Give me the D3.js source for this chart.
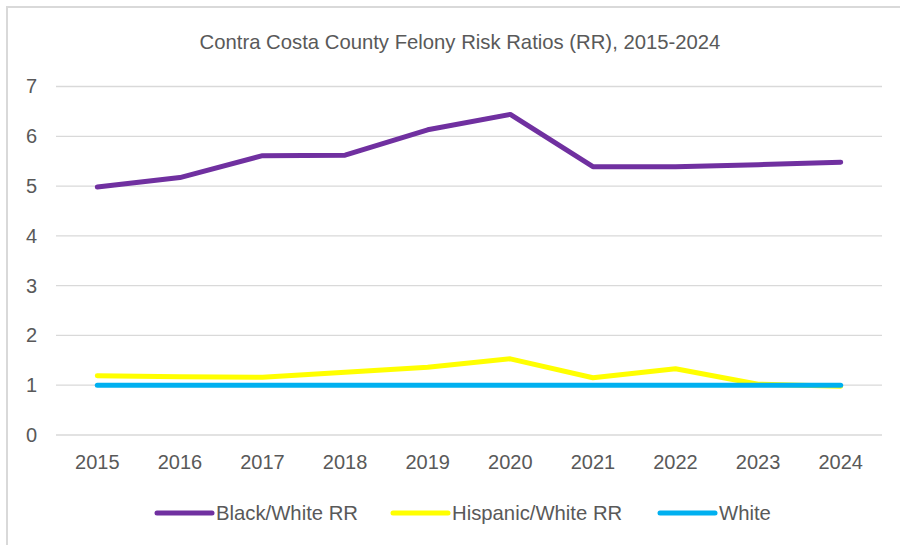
<!DOCTYPE html>
<html>
<head>
<meta charset="utf-8">
<script src="https://cdn.jsdelivr.net/npm/d3@7"></script>
<style>
	body { margin: 0; background: #fff; }
	text { font-family: 'Liberation Sans', Arial, sans-serif; fill: #595959; }
</style>
</head>
<body>
<div id="chart"></div>
<script>
var years = ['2015', '2016', '2017', '2018', '2019', '2020', '2021', '2022', '2023', '2024'];
var blackWhite = [4.98, 5.17, 5.61, 5.62, 6.13, 6.44, 5.39, 5.39, 5.43, 5.48];
var hispanicWhite = [1.19, 1.17, 1.16, 1.26, 1.36, 1.53, 1.15, 1.33, 1.02, 0.98];
var white = [1, 1, 1, 1, 1, 1, 1, 1, 1, 1];
var yTicks = [0, 1, 2, 3, 4, 5, 6, 7];
var seriesNames = ['Black/White RR', 'Hispanic/White RR', 'White'];
var seriesColors = ['#7030A0', '#FFFF00', '#00B0F0'];

var width = 900,
	height = 545;

var svg = d3.select('#chart').append('svg')
	.attr('width', width)
	.attr('height', height);

// chart frame
svg.append('path')
	.attr('d', 'M7,' + height + 'V7H' + width)
	.attr('fill', 'none')
	.attr('stroke', '#d9d9d9')
	.attr('stroke-width', 2);

svg.append('text')
	.attr('x', 460)
	.attr('y', 49)
	.attr('text-anchor', 'middle')
	.style('font-size', '20.3px')
	.text('Contra Costa County Felony Risk Ratios (RR), 2015-2024');

var x = d3.scaleBand()
	.domain(years)
	.range([56, 882]);

var y = d3.scaleLinear()
	.domain([0, 7])
	.range([435, 86.5]);

// gridlines
svg.append('g')
	.selectAll('line')
	.data(yTicks)
	.enter().append('line')
		.attr('x1', 56)
		.attr('x2', 882)
		.attr('y1', function(d){ return y(d); })
		.attr('y2', function(d){ return y(d); })
		.attr('stroke', '#d9d9d9')
		.attr('stroke-width', 1.3);

// y axis
var yAxis = svg.append('g')
	.attr('transform', 'translate(37,0)')
	.call(d3.axisLeft(y).tickValues(yTicks).tickFormat(d3.format('d')).tickSize(0).tickPadding(0));
yAxis.select('.domain').remove();
yAxis.selectAll('text')
	.style('font-size', '20px')
	.attr('fill', '#595959');

// x axis
var xAxis = svg.append('g')
	.attr('transform', 'translate(0,455)')
	.call(d3.axisBottom(x).tickSize(0).tickPadding(0));
xAxis.select('.domain').remove();
xAxis.selectAll('text')
	.style('font-size', '20px')
	.attr('fill', '#595959');

var line = d3.line()
	.x(function(d, i){ return x(years[i]) + x.bandwidth() / 2; })
	.y(function(d){ return y(d); });

var allSeries = [blackWhite, hispanicWhite, white];
svg.append('g')
	.selectAll('path')
	.data(allSeries)
	.enter().append('path')
		.attr('d', line)
		.attr('fill', 'none')
		.attr('stroke', function(d, i){ return seriesColors[i]; })
		.attr('stroke-width', 5)
		.attr('stroke-linejoin', 'round')
		.attr('stroke-linecap', 'round');

// legend
var legendX = [157, 393, 660];
var legend = svg.append('g')
	.selectAll('g')
	.data(seriesNames)
	.enter().append('g')
		.attr('transform', function(d, i){ return 'translate(' + legendX[i] + ',513)'; });
legend.append('line')
	.attr('x1', 0)
	.attr('x2', 55)
	.attr('stroke', function(d, i){ return seriesColors[i]; })
	.attr('stroke-width', 5)
	.attr('stroke-linecap', 'round');
legend.append('text')
	.attr('x', 59)
	.attr('dy', '0.35em')
	.style('font-size', '20.3px')
	.text(function(d){ return d; });
</script>
</body>
</html>
